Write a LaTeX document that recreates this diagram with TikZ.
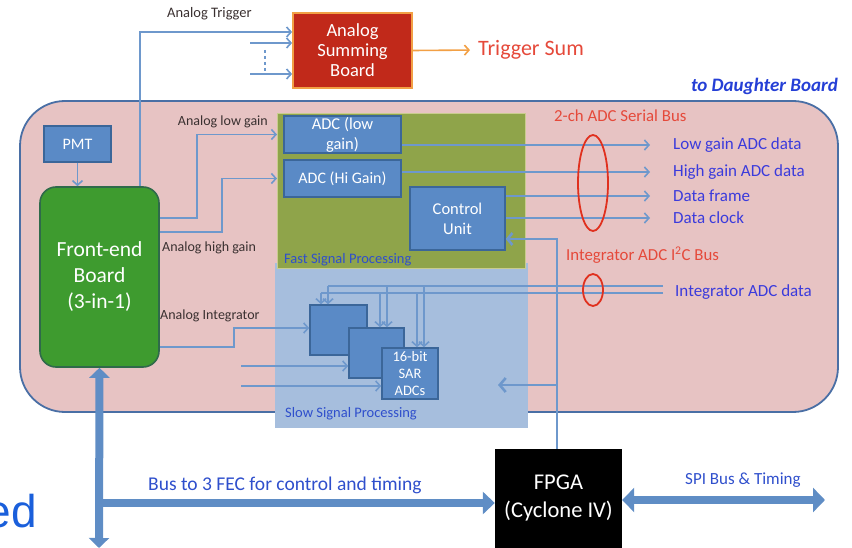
\documentclass[tikz,border=0pt]{standalone}
\usepackage{fontspec}
\setmainfont{Carlito}
\newfontfamily\slidefont{Liberation Sans}
\usetikzlibrary{arrows.meta, shapes.geometric}

\definecolor{boardpink}{HTML}{E7C3C3}
\definecolor{boardline}{HTML}{4A6FA5}
\definecolor{fastgreen}{HTML}{8FA44A}
\definecolor{fastline}{HTML}{C9CC8E}
\definecolor{slowblue}{HTML}{A6BEDD}
\definecolor{boxblue}{HTML}{5A8AC6}
\definecolor{boxline}{HTML}{3B6699}
\definecolor{sigblue}{HTML}{6E98CC}
\definecolor{busblue}{HTML}{5F8DC5}
\definecolor{febgreen}{HTML}{3E9B2F}
\definecolor{febline}{HTML}{2F6A4A}
\definecolor{sumred}{HTML}{C1291A}
\definecolor{sumorange}{HTML}{F2A045}
\definecolor{labred}{HTML}{E5493A}
\definecolor{ringred}{HTML}{E0301E}
\definecolor{labblue}{HTML}{3B3BDC}
\definecolor{panelblue}{HTML}{2F4FCC}
\definecolor{darktext}{HTML}{3A3030}
\definecolor{slideblue}{HTML}{1A5FDB}

\tikzset{
  sig/.style={draw=sigblue, line width=1.6pt},
  sigto/.style={sig, -{Straight Barb[length=4.5pt, width=10pt]}},
  ctlline/.style={draw=sigblue, line width=2.6pt},
  bluebox/.style={draw=boxline, fill=boxblue, line width=1.5pt, text=white,
    align=center, inner sep=0pt},
  lbl/.style={inner sep=0pt, anchor=west},
  ring/.style={ellipse, draw=ringred, line width=1.8pt, inner sep=0pt},
  thickbus/.style={draw=busblue, line width=8pt},
}

\begin{document}
\begin{tikzpicture}[x=1pt, y=-1pt]
  \useasboundingbox (0,0) rectangle (852,548);

  % daughter board and panels
  \node[draw=boardline, fill=boardpink, line width=1.8pt, rounded corners=45pt,
    minimum width=818pt, minimum height=311pt, inner sep=0pt] (board) at (429,256.5) {};
  \node[fill=slowblue, minimum width=253pt, minimum height=165pt, inner sep=0pt,
    anchor=north west] (slow) at (275,263) {};
  \node[draw=fastline, fill=fastgreen, line width=1pt, minimum width=248pt,
    minimum height=155pt, inner sep=0pt, anchor=north west] (fast) at (277,113) {};
  \node[lbl, text=panelblue, font=\fontsize{14.5}{16}\selectfont] at (284,260) {Fast Signal Processing};
  \node[lbl, text=panelblue, font=\fontsize{14.5}{16}\selectfont] at (285,414) {Slow Signal Processing};

  \node[lbl, anchor=east, text=panelblue!80!blue, font=\fontsize{19}{21}\selectfont\bfseries\itshape]
    at (838,86) {to Daughter Board};

  % boxes
  \node[draw=sumorange, fill=sumred, line width=1.8pt, text=white, align=center,
    minimum width=119pt, minimum height=75pt, font=\fontsize{18.5}{20}\selectfont]
    (summing) at (352.5,50.5) {Analog\\Summing\\Board};
  \node[bluebox, minimum width=67pt, minimum height=36pt, font=\fontsize{16}{18}\selectfont]
    (pmt) at (77.5,144) {PMT};
  \node[draw=febline, fill=febgreen, line width=1.6pt, rounded corners=16pt, text=white,
    align=center, minimum width=119pt, minimum height=180pt,
    font=\fontsize{21.5}{26}\selectfont] (feb) at (99.5,277) {Front-end\\Board\\(3-in-1)};
  \node[bluebox, minimum width=117pt, minimum height=37pt, font=\fontsize{16.5}{20}\selectfont]
    (adclow) at (342.5,134.5) {ADC (low\\gain)};
  \node[bluebox, minimum width=117pt, minimum height=37pt, font=\fontsize{16}{20}\selectfont]
    (adchi) at (342.5,178.5) {ADC (Hi Gain)};
  \node[bluebox, minimum width=95pt, minimum height=63pt, font=\fontsize{16.5}{20}\selectfont]
    (ctrl) at (457.5,218.5) {Control\\Unit};
  \node[bluebox, minimum width=57pt, minimum height=50pt] (sar1) at (338.5,330) {};
  \node[bluebox, minimum width=55pt, minimum height=50pt] (sar2) at (376.5,353) {};
  \node[bluebox, minimum width=56pt, minimum height=51pt, font=\fontsize{14.5}{17}\selectfont]
    (sar3) at (410,373.5) {16-bit\\SAR\\ADCs};
  \node[fill=black, text=white, align=center, minimum width=127pt, minimum height=99pt,
    inner sep=0pt, font=\fontsize{22.5}{28}\selectfont] (fpga) at (558.5,498.5) {FPGA\\(Cyclone IV)};

  % analog trigger
  \node[lbl, text=darktext, font=\fontsize{14.5}{16}\selectfont] at (167,14) {Analog Trigger};
  \coordinate (trgb) at (250,43);
  \coordinate (trgc) at (250,74);
  \draw[sigto] (feb.north -| 140,0) |- (summing.west |- 0,32);
  \draw[sigto] (trgb) -- (summing.west |- trgb);
  \draw[sigto] (trgc) -- (summing.west |- trgc);
  \draw[sig, dashed] (265,50) -- (265,74);
  \node[lbl, text=labred, font=\fontsize{22}{24}\selectfont] (trigsum) at (478,50) {Trigger Sum};
  \draw[draw=sumorange, line width=1.6pt, -{Straight Barb[length=4.5pt, width=10pt]},
    shorten >=8pt] (summing.east) -- (trigsum.west);

  % front-end outputs
  \draw[sigto] (pmt.south) -- (pmt.south |- feb.north);
  \node[lbl, anchor=east, text=darktext, font=\fontsize{14}{15}\selectfont] at (268,122) {Analog low gain};
  \node[lbl, text=darktext, font=\fontsize{14}{15}\selectfont] at (162,248) {Analog high gain};
  \node[lbl, text=darktext, font=\fontsize{14}{15}\selectfont] at (160,316) {Analog Integrator};
  \draw[sigto] (feb.east |- 0,218) -- (197,218) |- (fast.west |- adclow.west);
  \draw[sigto] (feb.east |- 0,232) -- (222,232) |- (fast.west |- adchi.west);
  \draw[sigto] (feb.east |- 0,347) -- (234,347) |- (sar1.west |- 0,328);
  \coordinate (in2) at (241,366);
  \coordinate (in3) at (241,386);
  \draw[sigto] (in2) -- (sar2.west |- in2);
  \draw[sigto] (in3) -- (sar3.west |- in3);

  % serial bus
  \node[lbl, text=labred, font=\fontsize{16.8}{18}\selectfont] at (554,116) {2-ch ADC Serial Bus};
  \node[lbl, text=labblue, font=\fontsize{17}{18}\selectfont] (lowdata) at (673,145) {Low gain ADC data};
  \node[lbl, text=labblue, font=\fontsize{17}{18}\selectfont] (hidata) at (673,172) {High gain ADC data};
  \node[lbl, text=labblue, font=\fontsize{17}{18}\selectfont] (frame) at (673,196) {Data frame};
  \node[lbl, text=labblue, font=\fontsize{17}{18}\selectfont] (clock) at (673,218) {Data clock};
  \draw[sigto, shorten >=23pt] (adclow.east |- lowdata) -- (lowdata.west);
  \draw[sigto, shorten >=23pt] (adchi.east |- hidata) -- (hidata.west);
  \draw[sigto, shorten >=23pt] (ctrl.east |- frame) -- (frame.west);
  \draw[sigto, shorten >=23pt] (ctrl.east |- clock) -- (clock.west);
  \node[ring, minimum width=30pt, minimum height=96pt] (serialring) at (593,183) {};

  % integrator bus
  \node[lbl, text=labred, font=\fontsize{16.8}{18}\selectfont] at (566,255) {Integrator ADC I\textsuperscript{2}C Bus};
  \node[lbl, text=labblue, font=\fontsize{17}{18}\selectfont] (intdata) at (675,292) {Integrator ADC data};
  \coordinate (i2ca) at (663,286);
  \coordinate (i2cb) at (663,293);
  \draw[sig] (i2ca) -- (328,286);
  \draw[sig] (i2cb) -- (321,293);
  \foreach \x/\b in {328/sar1, 387/sar2, 424/sar3}
    \draw[sigto] (\x,286) -- (\b.north -| \x,0);
  \foreach \x/\b in {321/sar1, 380/sar2, 417/sar3}
    \draw[sigto] (\x,293) -- (\b.north -| \x,0);
  \node[ring, minimum width=20pt, minimum height=32pt] (i2cring) at (593,290) {};

  % FPGA control
  \coordinate (slowctl) at (498,385);
  \draw[ctlline, -{Straight Barb[length=5pt, width=12pt]}] (fpga.north -| 557,0) |- (ctrl.east |- 0,239);
  \draw[ctlline, -{Straight Barb[length=6pt, width=14pt]}] (557,385) -- (slowctl);

  % buses
  \coordinate (busend) at (99,548);
  \coordinate (busjoin) at (99,503);
  \coordinate (spiend) at (825,500);
  \draw[thickbus, {Triangle[length=10pt, width=20pt]}-{Triangle[length=10pt, width=20pt]}]
    (feb.south) -- (busend);
  \draw[thickbus, -{Triangle[length=12pt, width=22pt]}] (busjoin) -- (busjoin -| fpga.west);
  \draw[thickbus, {Triangle[length=12pt, width=24pt]}-{Triangle[length=12pt, width=24pt]}]
    (fpga.east |- spiend) -- (spiend);
  \node[lbl, text=panelblue, font=\fontsize{19.5}{21}\selectfont] at (148,485) {Bus to 3 FEC for control and timing};
  \node[lbl, text=panelblue, font=\fontsize{17}{18}\selectfont] at (685,480) {SPI Bus \& Timing};

  % slide text cut at the edge
  \node[inner sep=0pt, anchor=east, text=slideblue, font=\fontsize{46}{50}\slidefont]
    at (37,511) {ed};
\end{tikzpicture}
\end{document}
